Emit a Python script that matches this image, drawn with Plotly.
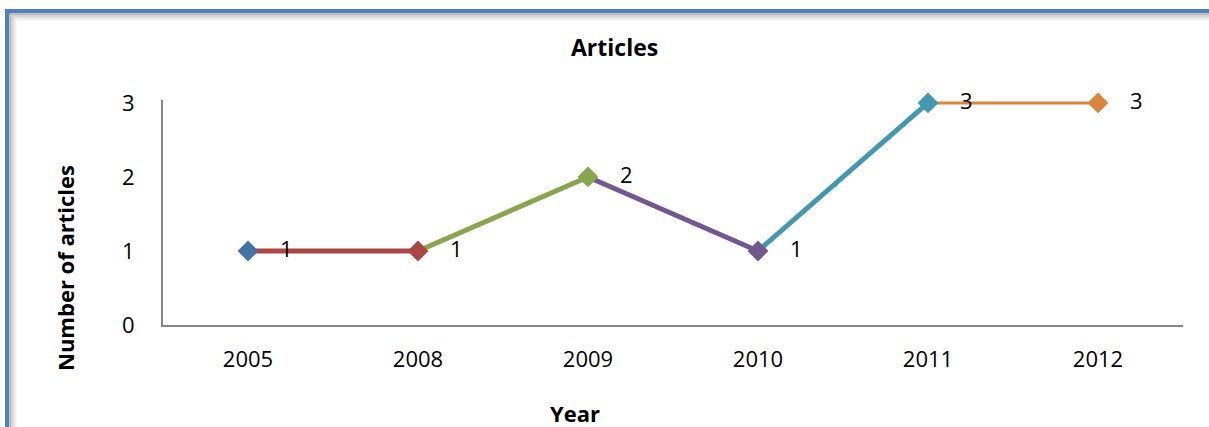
import plotly.graph_objects as go

years = ["2005", "2008", "2009", "2010", "2011", "2012"]
articles = [1, 1, 2, 1, 3, 3]
point_colors = ["#4572A7", "#AA4643", "#89A54E", "#71588F", "#4198AF", "#DB843D"]
line_widths = [5, 5, 5, 5, 3]  # segment widths (segment ending at point k)

W, H = 1209, 427
YMAX = 3.04
L, R, B = 163, 1209 - 1183, 427 - 325
PH = (325 - 103) * YMAX / 3
T = H - B - PH
PW = W - L - R

def px_x(p):
    return (p - L) / PW

def px_y(p):
    return (H - B - p) / PH

FONT = "Open Sans"
FS = 22
fig = go.Figure()

# line segments
for k in range(1, len(years)):
    fig.add_trace(go.Scatter(
        x=[k - 1, k], y=[articles[k - 1], articles[k]],
        mode="lines", line=dict(color=point_colors[k], width=line_widths[k - 1]),
        cliponaxis=False, showlegend=False, hoverinfo="skip"))

# markers
fig.add_trace(go.Scatter(
    x=list(range(len(years))), y=articles, mode="markers",
    marker=dict(symbol="diamond", size=16, color=point_colors, line=dict(width=0)),
    cliponaxis=False, showlegend=False))

# data labels
for k, v in enumerate(articles):
    fig.add_annotation(x=k, y=v, text=str(v), showarrow=False, xshift=38, yshift=3,
                       xanchor="center", yanchor="middle",
                       font=dict(family=FONT, size=FS, color="#000000"))

# border with shadow
shapes = []
for i, op in enumerate([0.35, 0.25, 0.16, 0.09, 0.04]):
    off = 3 + i * 1.6
    shapes.append(dict(type="line", xref="paper", yref="paper",
                       x0=px_x(7 + off), x1=px_x(W + 10), y0=px_y(11 + off), y1=px_y(11 + off),
                       line=dict(color=f"rgba(90,90,90,{op})", width=2)))
    shapes.append(dict(type="line", xref="paper", yref="paper",
                       x0=px_x(7 + off), x1=px_x(7 + off), y0=px_y(11 + off), y1=px_y(H + 10),
                       line=dict(color=f"rgba(90,90,90,{op})", width=2)))
shapes.append(dict(type="line", xref="paper", yref="paper",
                   x0=px_x(7), x1=px_x(W + 10), y0=px_y(11), y1=px_y(11),
                   line=dict(color="#4F81BD", width=4)))
shapes.append(dict(type="line", xref="paper", yref="paper",
                   x0=px_x(7), x1=px_x(7), y0=px_y(9), y1=px_y(H + 10),
                   line=dict(color="#4F81BD", width=4)))

fig.update_layout(
    width=W, height=H,
    margin=dict(l=L, r=R, t=T, b=B),
    paper_bgcolor="white", plot_bgcolor="white",
    font=dict(family=FONT, size=FS, color="#000000"),
    shapes=shapes,
    xaxis=dict(range=[-0.5, 5.5], tickvals=list(range(len(years))), ticktext=years,
               showgrid=False, zeroline=False,
               showline=True, linecolor="#868686", linewidth=2,
               ticks="outside", ticklen=14, tickcolor="rgba(0,0,0,0)",
               tickfont=dict(family=FONT, size=FS)),
    yaxis=dict(range=[0, YMAX], tickvals=[0, 1, 2, 3], showgrid=False, zeroline=False,
               showline=True, linecolor="#868686", linewidth=2,
               ticks="outside", ticklen=22, tickcolor="rgba(0,0,0,0)",
               tickfont=dict(family=FONT, size=FS)),
)

fig.add_annotation(xref="paper", yref="paper", x=px_x(614), y=px_y(47), text="<b>Articles</b>",
                   xanchor="center", yanchor="middle",
                   showarrow=False, font=dict(family=FONT, size=23))
fig.add_annotation(xref="paper", yref="paper", x=px_x(575), y=px_y(413), text="<b>Year</b>",
                   xanchor="center", yanchor="middle",
                   showarrow=False, font=dict(family=FONT, size=FS))
fig.add_annotation(xref="paper", yref="paper", x=px_x(65), y=px_y(268), text="<b>Number of articles</b>",
                   xanchor="center", yanchor="middle",
                   textangle=-90, showarrow=False, font=dict(family=FONT, size=FS))

fig.write_html("out.html")
